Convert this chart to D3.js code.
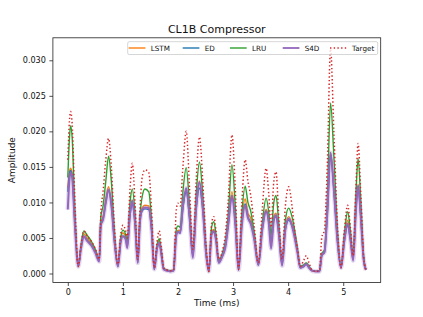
<!DOCTYPE html>
<html>
<head>
<meta charset="utf-8">
<script src="https://cdn.jsdelivr.net/npm/d3@7"></script>
<style>
  body { margin: 0; background: #fff; }
  svg { display: block; font-family: "DejaVu Sans", sans-serif; }
</style>
</head>
<body>
<svg id="chart" width="423" height="317"></svg>
<script>
// time axis (ms), shared by every series
const time = [
  0, 0.03, 0.05, 0.08, 0.12, 0.19, 0.24, 0.29, 0.35, 0.43, 0.50, 0.57,
  0.60, 0.64, 0.69, 0.74, 0.79, 0.85, 0.91,
  0.96, 1.00, 1.05, 1.08, 1.13, 1.17, 1.22, 1.27,
  1.31, 1.35, 1.40, 1.47, 1.52, 1.57,
  1.62, 1.66, 1.70, 1.74, 1.80, 1.86, 1.92,
  1.97, 2.00, 2.04, 2.09, 2.15, 2.21, 2.27,
  2.33, 2.39, 2.45, 2.51, 2.56,
  2.61, 2.65, 2.69, 2.74, 2.80, 2.86, 2.91, 2.98, 3.04, 3.10,
  3.16, 3.22, 3.27, 3.32, 3.38, 3.46,
  3.53, 3.60, 3.65, 3.69, 3.74, 3.78, 3.83, 3.89,
  3.95, 4.01, 4.07, 4.12, 4.17, 4.22,
  4.28, 4.33, 4.38, 4.43, 4.50, 4.57,
  4.61, 4.66, 4.71, 4.77, 4.83, 4.90, 4.96,
  5.02, 5.08, 5.13, 5.18, 5.23, 5.27, 5.32, 5.37, 5.41
];

const lstm = [
  0.0120, 0.0143, 0.0148, 0.0140, 0.0085, 0.0011, 0.0038, 0.0056, 0.0050, 0.0042, 0.0032, 0.0019,
  0.0072, 0.0080, 0.0105, 0.0122, 0.0100, 0.0045, 0.0011,
  0.0048, 0.0057, 0.0052, 0.0042, 0.0088, 0.0103, 0.0075, 0.0016,
  0.0075, 0.0092, 0.0096, 0.0095, 0.0065, 0.0007,
  0.0037, 0.0046, 0.0028, 0.0007, 0.0004, 0.0003, 0.0004,
  0.0057, 0.0061, 0.0060, 0.0095, 0.0118, 0.0080, 0.0026,
  0.0095, 0.0130, 0.0095, 0.0030, 0.0003,
  0.0058, 0.0062, 0.0050, 0.0016, 0.0025, 0.0040, 0.0070, 0.0115, 0.0075, 0.0005,
  0.0075, 0.0105, 0.0085, 0.0078, 0.0055, 0.0013,
  0.0065, 0.0090, 0.0075, 0.0045, 0.0080, 0.0085, 0.0060, 0.0013,
  0.0065, 0.0080, 0.0070, 0.0055, 0.0032, 0.0009,
  0.0011, 0.0014, 0.0009, 0.0004, 0.0003, 0.0003,
  0.0027, 0.0032, 0.0085, 0.0170, 0.0120, 0.0045, 0.0009,
  0.0048, 0.0075, 0.0052, 0.0022, 0.0090, 0.0125, 0.0080, 0.0022, 0.0005
];

const ed = [
  0.0115, 0.0140, 0.0145, 0.0137, 0.0082, 0.0010, 0.0036, 0.0053, 0.0047, 0.0040, 0.0030, 0.0018,
  0.0068, 0.0077, 0.0100, 0.0118, 0.0097, 0.0043, 0.0010,
  0.0045, 0.0053, 0.0050, 0.0038, 0.0082, 0.0096, 0.0070, 0.0015,
  0.0072, 0.0088, 0.0091, 0.0090, 0.0062, 0.0006,
  0.0035, 0.0043, 0.0026, 0.0006, 0.0004, 0.0003, 0.0004,
  0.0055, 0.0059, 0.0057, 0.0092, 0.0115, 0.0078, 0.0024,
  0.0090, 0.0120, 0.0090, 0.0028, 0.0003,
  0.0055, 0.0060, 0.0048, 0.0015, 0.0024, 0.0038, 0.0067, 0.0110, 0.0072, 0.0005,
  0.0070, 0.0098, 0.0080, 0.0072, 0.0052, 0.0012,
  0.0062, 0.0088, 0.0072, 0.0042, 0.0075, 0.0080, 0.0057, 0.0012,
  0.0062, 0.0075, 0.0067, 0.0052, 0.0030, 0.0008,
  0.0010, 0.0013, 0.0008, 0.0004, 0.0003, 0.0003,
  0.0025, 0.0030, 0.0082, 0.0168, 0.0118, 0.0042, 0.0008,
  0.0045, 0.0068, 0.0048, 0.0020, 0.0088, 0.0122, 0.0078, 0.0020, 0.0005
];

const lru = [
  0.0135, 0.0190, 0.0208, 0.0190, 0.0105, 0.0012, 0.0040, 0.0060, 0.0054, 0.0045, 0.0034, 0.0020,
  0.0080, 0.0095, 0.0130, 0.0165, 0.0130, 0.0055, 0.0012,
  0.0050, 0.0061, 0.0055, 0.0045, 0.0100, 0.0119, 0.0085, 0.0018,
  0.0080, 0.0108, 0.0119, 0.0115, 0.0075, 0.0008,
  0.0040, 0.0049, 0.0030, 0.0008, 0.0005, 0.0004, 0.0005,
  0.0062, 0.0067, 0.0065, 0.0115, 0.0149, 0.0095, 0.0030,
  0.0110, 0.0157, 0.0110, 0.0035, 0.0004,
  0.0065, 0.0073, 0.0055, 0.0018, 0.0027, 0.0045, 0.0080, 0.0153, 0.0095, 0.0006,
  0.0085, 0.0123, 0.0100, 0.0088, 0.0060, 0.0015,
  0.0070, 0.0106, 0.0085, 0.0055, 0.0100, 0.0110, 0.0070, 0.0015,
  0.0075, 0.0092, 0.0080, 0.0060, 0.0035, 0.0010,
  0.0012, 0.0015, 0.0010, 0.0005, 0.0003, 0.0004,
  0.0028, 0.0033, 0.0100, 0.0240, 0.0165, 0.0055, 0.0010,
  0.0055, 0.0087, 0.0060, 0.0025, 0.0110, 0.0162, 0.0100, 0.0025, 0.0006
];

const s4d = [
  0.0090, 0.0132, 0.0142, 0.0135, 0.0080, 0.0010, 0.0035, 0.0052, 0.0046, 0.0039, 0.0029, 0.0017,
  0.0068, 0.0076, 0.0100, 0.0118, 0.0097, 0.0043, 0.0010,
  0.0044, 0.0052, 0.0048, 0.0036, 0.0085, 0.0102, 0.0072, 0.0015,
  0.0073, 0.0090, 0.0093, 0.0092, 0.0063, 0.0006,
  0.0035, 0.0043, 0.0026, 0.0006, 0.0004, 0.0003, 0.0004,
  0.0054, 0.0058, 0.0057, 0.0095, 0.0120, 0.0080, 0.0022,
  0.0092, 0.0128, 0.0092, 0.0028, 0.0003,
  0.0055, 0.0059, 0.0047, 0.0015, 0.0023, 0.0037, 0.0066, 0.0108, 0.0070, 0.0005,
  0.0068, 0.0095, 0.0078, 0.0070, 0.0050, 0.0012,
  0.0061, 0.0087, 0.0070, 0.0035, 0.0075, 0.0082, 0.0056, 0.0011,
  0.0062, 0.0077, 0.0067, 0.0050, 0.0029, 0.0008,
  0.0010, 0.0013, 0.0008, 0.0004, 0.0003, 0.0003,
  0.0025, 0.0030, 0.0083, 0.0170, 0.0118, 0.0042, 0.0008,
  0.0046, 0.0070, 0.0048, 0.0018, 0.0088, 0.0123, 0.0078, 0.0020, 0.0005
];

const target = [
  0.0160, 0.0215, 0.0228, 0.0210, 0.0120, 0.0010, 0.0040, 0.0060, 0.0053, 0.0045, 0.0035, 0.0020,
  0.0085, 0.0115, 0.0160, 0.0190, 0.0150, 0.0060, 0.0013,
  0.0055, 0.0068, 0.0060, 0.0050, 0.0120, 0.0155, 0.0100, 0.0020,
  0.0090, 0.0135, 0.0146, 0.0142, 0.0090, 0.0008,
  0.0045, 0.0060, 0.0035, 0.0008, 0.0005, 0.0004, 0.0005,
  0.0090, 0.0099, 0.0095, 0.0150, 0.0200, 0.0120, 0.0034,
  0.0130, 0.0192, 0.0130, 0.0040, 0.0003,
  0.0070, 0.0080, 0.0060, 0.0020, 0.0030, 0.0055, 0.0100, 0.0195, 0.0120, 0.0006,
  0.0100, 0.0160, 0.0130, 0.0110, 0.0070, 0.0015,
  0.0090, 0.0148, 0.0110, 0.0065, 0.0130, 0.0143, 0.0080, 0.0020,
  0.0095, 0.0122, 0.0095, 0.0060, 0.0035, 0.0010,
  0.0018, 0.0025, 0.0015, 0.0005, 0.0003, 0.0004,
  0.0050, 0.0062, 0.0150, 0.0316, 0.0200, 0.0060, 0.0008,
  0.0060, 0.0096, 0.0065, 0.0025, 0.0120, 0.0183, 0.0110, 0.0025, 0.0006
];

const xTicks = [0, 1, 2, 3, 4, 5];
const yTicks = [0, 0.005, 0.010, 0.015, 0.020, 0.025, 0.030];

const series = [
  { name: 'LSTM', values: lstm, color: '#ff7f0e' },
  { name: 'ED', values: ed, color: '#1f77b4' },
  { name: 'LRU', values: lru, color: '#2ca02c' },
  { name: 'S4D', values: s4d, color: '#9467bd', halo: true },
  { name: 'Target', values: target, color: '#d62728', dotted: true }
];

const W = 423, H = 317;
const plot = { left: 52.9, right: 380.7, top: 37.8, bottom: 282.5 };

const svg = d3.select('#chart');

// matplotlib style 5% margins
const pad = (ext) => {
  const r = ext[1] - ext[0];
  return [ext[0] - 0.05 * r, ext[1] + 0.05 * r];
};
const allY = series.flatMap(s => s.values);
const x = d3.scaleLinear().domain(pad(d3.extent(time))).range([plot.left, plot.right]);
const y = d3.scaleLinear().domain(pad(d3.extent(allY))).range([plot.bottom, plot.top]);

svg.append('rect').attr('width', W).attr('height', H).attr('fill', '#fff');

svg.append('clipPath').attr('id', 'clip')
  .append('rect')
  .attr('x', plot.left).attr('y', plot.top)
  .attr('width', plot.right - plot.left).attr('height', plot.bottom - plot.top);

const line = d3.line()
  .x((d, i) => x(time[i]))
  .y(d => y(d))
  .curve(d3.curveMonotoneX);

const lines = svg.append('g').attr('clip-path', 'url(#clip)');
for (const s of series) {
  if (s.halo) {
    lines.append('path')
      .attr('d', line(s.values))
      .attr('fill', 'none')
      .attr('stroke', s.color)
      .attr('stroke-opacity', 0.25)
      .attr('stroke-width', 4.5)
      .attr('stroke-linejoin', 'round');
  }
  const p = lines.append('path')
    .attr('d', line(s.values))
    .attr('fill', 'none')
    .attr('stroke', s.color)
    .attr('stroke-width', s.halo ? 2 : 1.4)
    .attr('stroke-linejoin', 'round');
  if (s.dotted) {
    p.attr('stroke-dasharray', '1.4,2.3').attr('stroke-width', 1.5);
  }
}

// axes
const xAxis = svg.append('g')
  .attr('transform', `translate(0,${plot.bottom})`)
  .call(d3.axisBottom(x).tickValues(xTicks).tickFormat(d3.format('d')).tickSize(3.5).tickPadding(3));
const yAxis = svg.append('g')
  .attr('transform', `translate(${plot.left},0)`)
  .call(d3.axisLeft(y).tickValues(yTicks).tickFormat(d3.format('.3f')).tickSize(3.5).tickPadding(3.5));

for (const a of [xAxis, yAxis]) {
  a.select('.domain').remove();
  a.selectAll('.tick line').attr('stroke', '#222').attr('stroke-width', 0.8);
  a.selectAll('.tick text')
    .attr('fill', '#111')
    .style('font-family', '"DejaVu Sans", sans-serif')
    .style('font-size', '8.1px');
}

svg.append('rect')
  .attr('x', plot.left).attr('y', plot.top)
  .attr('width', plot.right - plot.left).attr('height', plot.bottom - plot.top)
  .attr('fill', 'none').attr('stroke', '#222').attr('stroke-width', 0.8);

// title and labels
svg.append('text')
  .attr('x', (plot.left + plot.right) / 2).attr('y', 32.5)
  .attr('text-anchor', 'middle')
  .style('font-size', '11px').attr('fill', '#111')
  .text('CL1B Compressor');

svg.append('text')
  .attr('x', (plot.left + plot.right) / 2).attr('y', 306)
  .attr('text-anchor', 'middle')
  .style('font-size', '9px').attr('fill', '#111')
  .text('Time (ms)');

svg.append('text')
  .attr('transform', `translate(14.5,${(plot.top + plot.bottom) / 2}) rotate(-90)`)
  .attr('text-anchor', 'middle')
  .style('font-size', '9px').attr('fill', '#111')
  .text('Amplitude');

// legend, one row of five entries
const legend = svg.append('g');
legend.append('rect')
  .attr('x', 127.7).attr('y', 41.7).attr('width', 250).attr('height', 12.8)
  .attr('rx', 1.5)
  .attr('fill', '#fff').attr('fill-opacity', 0.8)
  .attr('stroke', '#ccc').attr('stroke-width', 0.8);

const handleX = [128.7, 182.7, 230, 282.7, 330];
series.forEach((s, i) => {
  const hx = handleX[i];
  const hl = legend.append('line')
    .attr('x1', hx).attr('x2', hx + 16.7)
    .attr('y1', 48).attr('y2', 48)
    .attr('stroke', s.color)
    .attr('stroke-width', s.halo ? 1.8 : 1.4);
  if (s.dotted) hl.attr('stroke-dasharray', '1.4,2.3').attr('stroke-width', 1.5);
  legend.append('text')
    .attr('x', hx + 22).attr('y', 50.6)
    .style('font-size', '7.2px').attr('fill', '#111')
    .text(s.name);
});
</script>
</body>
</html>
